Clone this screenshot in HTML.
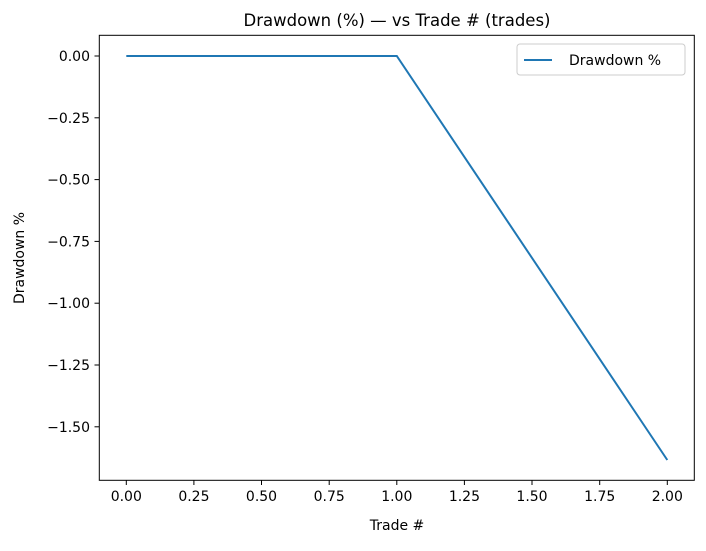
<!DOCTYPE html>
<html><head><style>body{margin:0;background:#fff}</style></head><body>
<svg width="706" height="546" xmlns="http://www.w3.org/2000/svg" font-family="DejaVu Sans, Liberation Sans, sans-serif" font-size="14">
<rect width="706" height="546" fill="#fff"/>
<text x="397" y="26" text-anchor="middle" font-size="16.5">Drawdown (%) — vs Trade # (trades)</text>
<polyline points="126.3,56 396.8,56 667.3,460" fill="none" stroke="#1f77b4" stroke-width="2"/>
<rect x="99.3" y="35.3" width="595" height="445" fill="none" stroke="#000" stroke-width="1"/>
<g stroke="#000">
<line x1="126.3" y1="480.3" x2="126.3" y2="485"/><line x1="193.9" y1="480.3" x2="193.9" y2="485"/><line x1="261.5" y1="480.3" x2="261.5" y2="485"/><line x1="329.2" y1="480.3" x2="329.2" y2="485"/><line x1="396.8" y1="480.3" x2="396.8" y2="485"/><line x1="464.4" y1="480.3" x2="464.4" y2="485"/><line x1="532" y1="480.3" x2="532" y2="485"/><line x1="599.7" y1="480.3" x2="599.7" y2="485"/><line x1="667.3" y1="480.3" x2="667.3" y2="485"/>
<line x1="99.3" y1="56" x2="94.5" y2="56"/><line x1="99.3" y1="117.8" x2="94.5" y2="117.8"/><line x1="99.3" y1="179.6" x2="94.5" y2="179.6"/><line x1="99.3" y1="241.4" x2="94.5" y2="241.4"/><line x1="99.3" y1="303.2" x2="94.5" y2="303.2"/><line x1="99.3" y1="365" x2="94.5" y2="365"/><line x1="99.3" y1="426.8" x2="94.5" y2="426.8"/>
</g>
<g text-anchor="middle">
<text x="126.3" y="501">0.00</text><text x="193.9" y="501">0.25</text><text x="261.5" y="501">0.50</text><text x="329.2" y="501">0.75</text><text x="396.8" y="501">1.00</text><text x="464.4" y="501">1.25</text><text x="532" y="501">1.50</text><text x="599.7" y="501">1.75</text><text x="667.3" y="501">2.00</text>
</g>
<text x="397" y="530" text-anchor="middle">Trade #</text>
<g text-anchor="end">
<text x="90" y="61">0.00</text><text x="90" y="122.8">−0.25</text><text x="90" y="184.6">−0.50</text><text x="90" y="246.4">−0.75</text><text x="90" y="308.2">−1.00</text><text x="90" y="370">−1.25</text><text x="90" y="431.8">−1.50</text>
</g>
<text transform="translate(24,258) rotate(-90)" text-anchor="middle">Drawdown %</text>
<rect x="517" y="44" width="168" height="31" rx="3" fill="#fff" stroke="#ccc"/>
<line x1="524" y1="60" x2="552" y2="60" stroke="#1f77b4" stroke-width="2"/>
<text x="569" y="65">Drawdown %</text>
</svg>
</body></html>
